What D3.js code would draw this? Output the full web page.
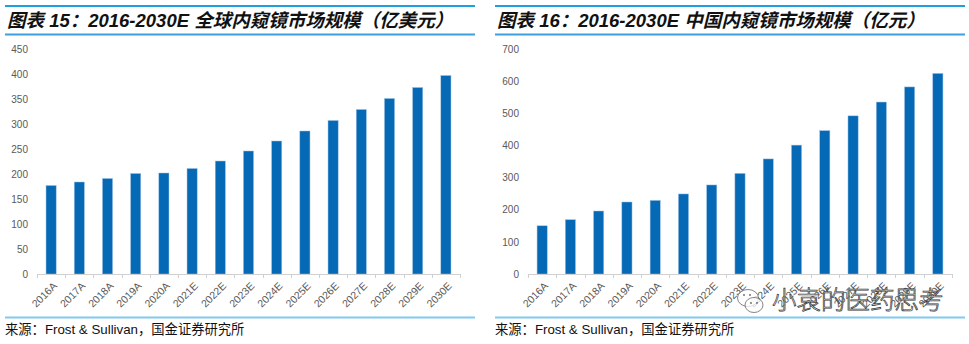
<!DOCTYPE html>
<html>
<head>
<meta charset="utf-8">
<script src="https://cdn.jsdelivr.net/npm/d3@7"></script>
<style>
  html, body { margin: 0; padding: 0; background: #fff; }
  svg { display: block; }
</style>
</head>
<body>
<svg id="chart" width="969" height="344"></svg>
<script>
// Years shared by both panels
const years = ["2016A", "2017A", "2018A", "2019A", "2020A", "2021E", "2022E", "2023E",
               "2024E", "2025E", "2026E", "2027E", "2028E", "2029E", "2030E"];

// Global endoscope market (100M USD)
const globalValues = [177, 184, 191, 201, 202, 211, 226, 246, 266, 286, 307, 329, 351, 373, 397];
const globalTicks = [0, 50, 100, 150, 200, 250, 300, 350, 400, 450];

// China endoscope market (100M CNY)
const chinaValues = [150, 169, 196, 224, 229, 249, 277, 313, 358, 401, 446, 492, 535, 582, 624];
const chinaTicks = [0, 100, 200, 300, 400, 500, 600, 700];

const titles = ["图表 15：2016-2030E 全球内窥镜市场规模（亿美元）",
                "图表 16：2016-2030E 中国内窥镜市场规模（亿元）"];
const sourceText = "来源：Frost & Sullivan，国金证券研究所";
const watermarkText = "小袁的医药思考";

const svg = d3.select("#chart");
const latin = "'Liberation Sans', Arial, 'Noto Sans CJK SC', sans-serif";
const barColor = "#0569b5";

const panels = [
  { left: 5, right: 475, plotX0: 37, plotX1: 460, labelX: 28, values: globalValues, ticks: globalTicks, max: 450, title: titles[0] },
  { left: 495, right: 965, plotX0: 528, plotX1: 952, labelX: 519, values: chinaValues, ticks: chinaTicks, max: 700, title: titles[1] }
];

const plotTop = 49, plotBottom = 274;

panels.forEach(p => {
  const g = svg.append("g");

  // title frame
  g.append("line").attr("x1", p.left).attr("x2", p.right).attr("y1", 6).attr("y2", 6)
    .attr("stroke", "#1ea0e0").attr("stroke-width", 2);
  g.append("line").attr("x1", p.left).attr("x2", p.right).attr("y1", 34.5).attr("y2", 34.5)
    .attr("stroke", "#3d9fdc").attr("stroke-width", 2);
  g.append("text").attr("x", p.left + 2).attr("y", 26.5)
    .attr("font-family", latin).attr("font-size", 18.5).attr("font-weight", "bold")
    .attr("font-style", "italic").attr("fill", "#111")
    .text(p.title);

  // footer
  g.append("line").attr("x1", p.left).attr("x2", p.right).attr("y1", 317.5).attr("y2", 317.5)
    .attr("stroke", "#80c9ef").attr("stroke-width", 2);
  g.append("text").attr("x", p.left).attr("y", 333.5)
    .attr("font-family", latin).attr("font-size", 13.3).attr("fill", "#111")
    .text(sourceText);

  // scales
  const x = d3.scaleBand().domain(years).range([p.plotX0, p.plotX1]).paddingInner(0.64).paddingOuter(0.32);
  const xEdge = d3.scaleBand().domain(years).range([p.plotX0, p.plotX1]);
  const y = d3.scaleLinear().domain([0, p.max]).range([plotBottom, plotTop]);

  // y axis labels (no axis line)
  const yAxis = d3.axisLeft(y).tickValues(p.ticks).tickSize(0).tickPadding(0);
  const ya = g.append("g").attr("transform", `translate(${p.labelX},0)`).call(yAxis);
  ya.select(".domain").remove();
  ya.selectAll("text").attr("font-family", latin).attr("font-size", 10).attr("fill", "#595959");

  // bars
  g.append("g").selectAll("rect").data(p.values).join("rect")
    .attr("x", (d, i) => x(years[i]))
    .attr("width", x.bandwidth())
    .attr("y", d => y(d))
    .attr("height", d => plotBottom - y(d))
    .attr("fill", barColor)
    .attr("stroke", "#9cc2e6").attr("stroke-width", 0.5);

  // category axis with ticks at band edges
  g.append("line").attr("x1", p.plotX0).attr("x2", p.plotX1)
    .attr("y1", plotBottom + 0.5).attr("y2", plotBottom + 0.5)
    .attr("stroke", "#d0d0d0").attr("stroke-width", 1);
  const edges = years.map(yr => xEdge(yr)).concat([p.plotX1]);
  g.append("g").selectAll("line").data(edges).join("line")
    .attr("x1", d => Math.round(d) + 0.5).attr("x2", d => Math.round(d) + 0.5)
    .attr("y1", plotBottom).attr("y2", plotBottom + 4)
    .attr("stroke", "#d0d0d0").attr("stroke-width", 1);

  g.append("g").selectAll("text").data(years).join("text")
    .attr("transform", d => `translate(${xEdge(d) + xEdge.bandwidth() / 2 + 4},${plotBottom + 10}) rotate(-45)`)
    .attr("text-anchor", "end")
    .attr("dy", "0.35em")
    .attr("font-family", latin).attr("font-size", 10.5).attr("fill", "#595959")
    .text(d => d);
});

// watermark with chat-bubble icon
const wm = svg.append("g");
wm.append("ellipse").attr("cx", 748).attr("cy", 298).attr("rx", 10.5).attr("ry", 8.5)
  .attr("fill", "rgba(255,255,255,0.75)").attr("stroke", "#666").attr("stroke-width", 0.8);
wm.append("ellipse").attr("cx", 754).attr("cy", 305).attr("rx", 9).attr("ry", 7.5)
  .attr("fill", "rgba(255,255,255,0.75)").attr("stroke", "#666").attr("stroke-width", 0.8);
[[744, 295], [750, 295], [751, 303], [757, 303]].forEach(([cx, cy]) => {
  wm.append("circle").attr("cx", cx).attr("cy", cy).attr("r", 0.9).attr("fill", "#666");
});
wm.append("text").attr("x", 772).attr("y", 309)
  .attr("font-family", "'Noto Sans CJK SC', sans-serif").attr("font-size", 24.5)
  .attr("font-weight", 300)
  .attr("fill", "rgba(255,255,255,0.8)").attr("stroke", "#333").attr("stroke-width", 0.7)
  .text(watermarkText);
</script>
</body>
</html>
